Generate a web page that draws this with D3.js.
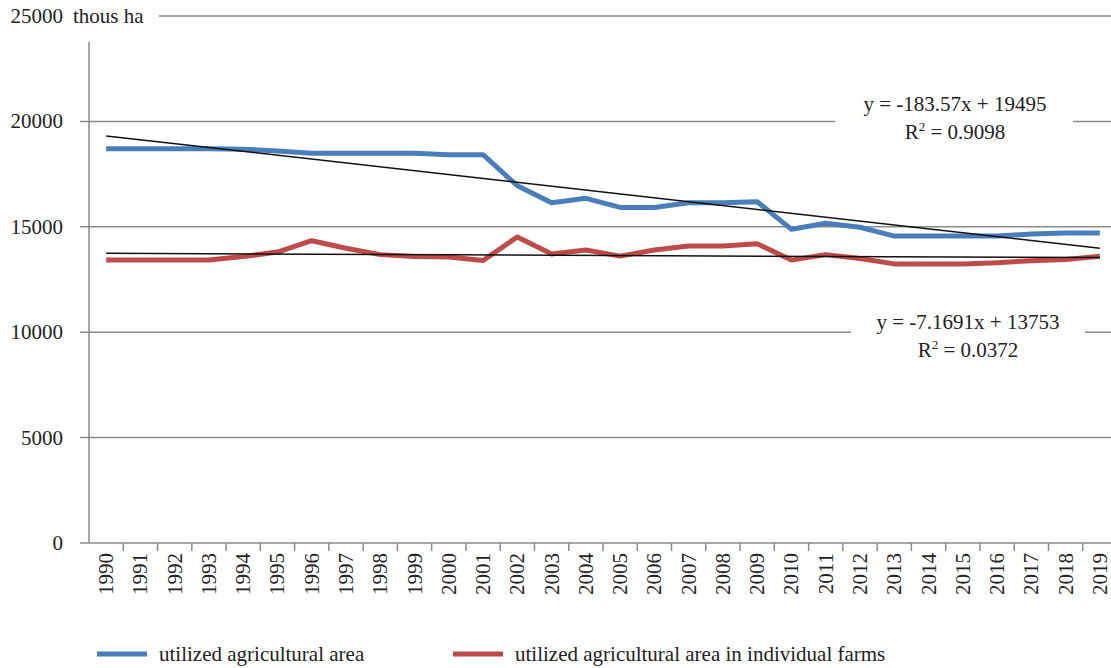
<!DOCTYPE html>
<html>
<head>
<meta charset="utf-8">
<script src="https://cdn.jsdelivr.net/npm/d3@7"></script>
<style>
  html, body { margin: 0; padding: 0; background: #fff; }
  svg { display: block; }
</style>
</head>
<body>
<svg id="chart" width="1111" height="668"></svg>
<script>
const years = d3.range(1990, 2020).map(String);
const areaTotal = [18700, 18700, 18700, 18700, 18680, 18600, 18490, 18490, 18490, 18490, 18420, 18420,
                   16950, 16140, 16350, 15920, 15920, 16140, 16140, 16190, 14880, 15170, 14980, 14560,
                   14560, 14560, 14560, 14660, 14700, 14700];
const areaIndividual = [13430, 13430, 13430, 13430, 13590, 13800, 14340, 13980, 13680, 13590, 13570, 13400,
                        14520, 13710, 13900, 13610, 13900, 14090, 14090, 14200, 13420, 13680, 13500, 13240,
                        13240, 13240, 13300, 13390, 13450, 13600];
const seriesNames = ["utilized agricultural area", "utilized agricultural area in individual farms"];
const seriesColors = ["#4A7EBB", "#BE4B48"];
const trendSlopes = [-183.57, -7.1691];
const trendIntercepts = [19495, 13753];
const trendEquations = ["y = -183.57x + 19495", "y = -7.1691x + 13753"];
const trendR2 = ["0.9098", "0.0372"];
const yTicks = [0, 5000, 10000, 15000, 20000, 25000];
const yUnit = "thous ha";

const svg = d3.select("#chart");
const mLeft = 89, mRight = 1117, mTop = 16, mBottom = 543;
const FS = 21;
const FONT = "Liberation Serif";
const TXT = "#222";

const x = d3.scaleBand().domain(years).range([mLeft, mRight]).paddingInner(0).paddingOuter(0);
const y = d3.scaleLinear().domain([0, 25000]).range([mBottom, mTop]);
const cx = d => x(d) + x.bandwidth() / 2;

const grid = "#8a8a8a";

// gridlines
svg.append("g").selectAll("line").data(yTicks.filter(t => t > 0)).join("line")
  .attr("x1", mLeft - 9).attr("x2", mRight)
  .attr("y1", d => y(d)).attr("y2", d => y(d))
  .attr("stroke", grid).attr("stroke-width", 1.5);

// y axis line
svg.append("line").attr("x1", mLeft).attr("x2", mLeft)
  .attr("y1", y(0)).attr("y2", 42)
  .attr("stroke", grid).attr("stroke-width", 1.5);

// x axis with ticks at band edges
const xAxisG = svg.append("g");
xAxisG.append("line").attr("x1", mLeft - 9).attr("x2", mRight)
  .attr("y1", y(0)).attr("y2", y(0)).attr("stroke", grid).attr("stroke-width", 1.5);
xAxisG.selectAll("line.tk").data(years).join("line").attr("class", "tk")
  .attr("x1", d => x(d) + x.bandwidth()).attr("x2", d => x(d) + x.bandwidth())
  .attr("y1", y(0)).attr("y2", y(0) + 8)
  .attr("stroke", grid).attr("stroke-width", 1.5);
xAxisG.selectAll("text").data(years).join("text")
  .attr("transform", d => `translate(${cx(d) + 7},${y(0) + 10}) rotate(-90)`)
  .attr("text-anchor", "end")
  .attr("font-size", FS)
  .text(d => d);

// y labels
svg.append("g").selectAll("text").data(yTicks).join("text")
  .attr("x", 63).attr("y", d => y(d) + 7)
  .attr("text-anchor", "end").attr("font-size", FS)
  .text(d => d);

// unit label with white background
svg.append("rect").attr("x", 66).attr("y", 2).attr("width", 93).attr("height", 28).attr("fill", "#fff");
svg.append("text").attr("x", 73).attr("y", y(25000) + 7).attr("font-size", FS).text(yUnit);

// data lines
const line = d3.line().x((d, i) => cx(years[i])).y(d => y(d));
[areaTotal, areaIndividual].forEach((s, k) => {
  svg.append("path").datum(s).attr("d", line)
    .attr("fill", "none").attr("stroke", seriesColors[k]).attr("stroke-width", 5)
    .attr("stroke-linejoin", "round");
});

// trend lines
trendSlopes.forEach((m, k) => {
  const pts = [1, years.length].map(i => [cx(years[i - 1]), y(m * i + trendIntercepts[k])]);
  svg.append("line").attr("x1", pts[0][0]).attr("y1", pts[0][1])
    .attr("x2", pts[1][0]).attr("y2", pts[1][1])
    .attr("stroke", "#111").attr("stroke-width", 1.5);
});

// trend equation labels
const labelPos = [{cx: 955, by: 111, bx0: 835, bx1: 1073}, {cx: 968, by: 329, bx0: 851, bx1: 1085}];
trendEquations.forEach((eq, k) => {
  const p = labelPos[k];
  svg.append("rect").attr("x", p.bx0).attr("y", p.by - 22).attr("width", p.bx1 - p.bx0).attr("height", 54)
    .attr("fill", "#fff");
  svg.append("text").attr("x", p.cx).attr("y", p.by).attr("text-anchor", "middle").attr("font-size", FS).text(eq);
  const t = svg.append("text").attr("x", p.cx).attr("y", p.by + 28).attr("text-anchor", "middle").attr("font-size", FS);
  t.append("tspan").text("R");
  t.append("tspan").attr("font-size", 13).attr("dy", -8).text("2");
  t.append("tspan").attr("dy", 8).text(" = " + trendR2[k]);
});

// legend
const legendX = [97, 453];
seriesNames.forEach((name, k) => {
  svg.append("line").attr("x1", legendX[k]).attr("x2", legendX[k] + 50)
    .attr("y1", 654).attr("y2", 654).attr("stroke", seriesColors[k]).attr("stroke-width", 5);
  svg.append("text").attr("x", legendX[k] + 62).attr("y", 661).attr("font-size", FS).text(name);
});

// apply font to every text element directly
svg.selectAll("text").attr("font-family", FONT).attr("fill", TXT);
</script>
</body>
</html>
